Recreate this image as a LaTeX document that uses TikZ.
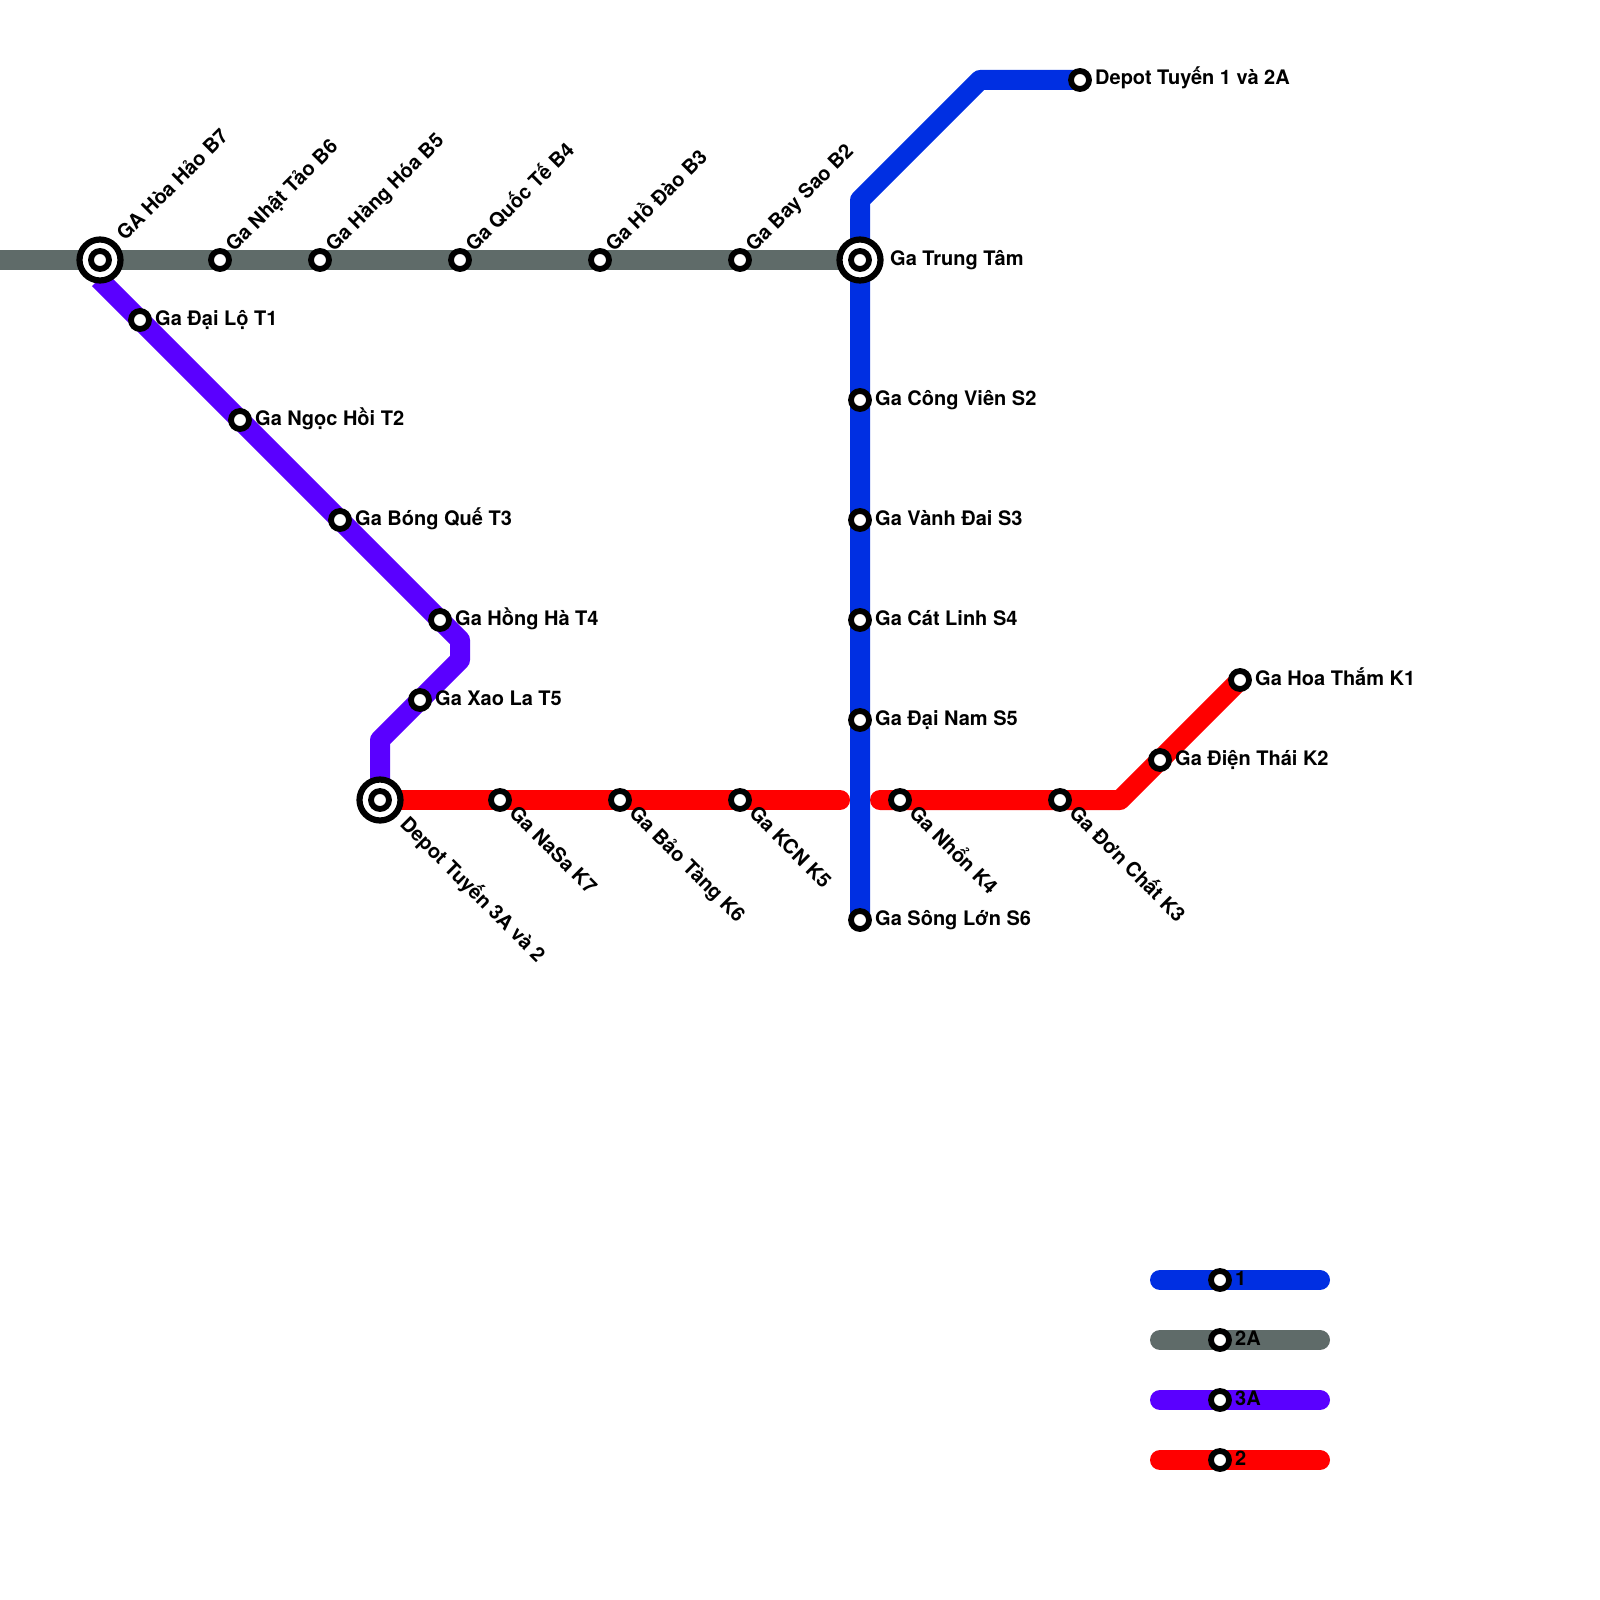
\documentclass[tikz,border=0pt]{standalone}
\usepackage{fontspec}
\setmainfont{TeX Gyre Heros}
\definecolor{lineblue}{RGB}{0,47,226}
\definecolor{linegray}{RGB}{95,107,105}
\definecolor{linepurple}{RGB}{90,0,255}
\definecolor{linered}{RGB}{255,0,0}
\tikzset{
  metro/.style={line width=20pt,line join=round},
  stn/.style={circle,draw=black,fill=white,line width=5.8pt,minimum size=18pt,inner sep=0pt},
  hub/.style={circle,draw=black,fill=white,line width=6.2pt,minimum size=41pt,inner sep=0pt},
  lbl/.style={inner sep=0pt,text=black,font=\fontsize{20}{24}\bfseries\selectfont},
  lblE/.style={lbl,anchor=base west},
  lblUp/.style={lbl,anchor=base west,rotate=45},
  lblDn/.style={lbl,anchor=base west,rotate=-45},
}
\begin{document}
\begin{tikzpicture}[x=1pt,y=-1pt]
\useasboundingbox (0,0) rectangle (1600,1600);
% route bends and free ends
\coordinate (gstart) at (0,260);
\coordinate (bA) at (980,80);
\coordinate (bB) at (860,200);
\coordinate (pS) at (99,279);
\coordinate (pA) at (460,640);
\coordinate (pB) at (460,660);
\coordinate (pC) at (380,740);
\coordinate (rEndL) at (840,800);
\coordinate (rStartR) at (880,800);
\coordinate (rBend) at (1120,800);
\coordinate (k1s) at (1160,1280);\coordinate (k1e) at (1320,1280);
\coordinate (k2s) at (1160,1340);\coordinate (k2e) at (1320,1340);
\coordinate (k3s) at (1160,1400);\coordinate (k3e) at (1320,1400);
\coordinate (k4s) at (1160,1460);\coordinate (k4e) at (1320,1460);
% stations (positions, drawn after the lines)
\coordinate (B7) at (100,260);
\coordinate (B6) at (220,260);
\coordinate (B5) at (320,260);
\coordinate (B4) at (460,260);
\coordinate (B3) at (600,260);
\coordinate (B2) at (740,260);
\coordinate (TT) at (860,260);
\coordinate (T1) at (140,320);
\coordinate (T2) at (240,420);
\coordinate (T3) at (340,520);
\coordinate (T4) at (440,620);
\coordinate (T5) at (420,700);
\coordinate (DP) at (380,800);
\coordinate (K7) at (500,800);
\coordinate (K6) at (620,800);
\coordinate (K5) at (740,800);
\coordinate (K4) at (900,800);
\coordinate (K3) at (1060,800);
\coordinate (K2) at (1160,760);
\coordinate (K1) at (1240,680);
\coordinate (D1) at (1080,80);
\coordinate (S2) at (860,400);
\coordinate (S3) at (860,520);
\coordinate (S4) at (860,620);
\coordinate (S5) at (860,720);
\coordinate (S6) at (860,920);
\coordinate (L1) at (1220,1280);
\coordinate (L2) at (1220,1340);
\coordinate (L3) at (1220,1400);
\coordinate (L4) at (1220,1460);
% lines
\draw[metro,linered,line cap=round] (DP) -- (rEndL);
\draw[metro,linered,line cap=round] (rStartR) -- (rBend) -- (K1);
\draw[metro,linepurple] (pS) -- (pA) -- (pB) -- (pC) -- (DP);
\draw[metro,lineblue] (D1) -- (bA) -- (bB) -- (S6);
\draw[metro,linegray] (gstart) -- (TT);
\draw[metro,lineblue,line cap=round] (k1s) -- (k1e);
\draw[metro,linegray,line cap=round] (k2s) -- (k2e);
\draw[metro,linepurple,line cap=round] (k3s) -- (k3e);
\draw[metro,linered,line cap=round] (k4s) -- (k4e);
% stations
\node[hub] (nB7o) at (B7) {}; \node[stn] (nB7) at (B7) {};
\node[hub] (nTTo) at (TT) {}; \node[stn] (nTT) at (TT) {};
\node[hub] (nDPo) at (DP) {}; \node[stn] (nDP) at (DP) {};
\foreach \s in {B6,B5,B4,B3,B2,T1,T2,T3,T4,T5,K7,K6,K5,K4,K3,K2,K1,D1,S2,S3,S4,S5,S6,L1,L2,L3,L4}
  \node[stn] (n\s) at (\s) {};
% labels: up-right
\node[lblUp] (tB7) at ([shift={(25,-18)}]B7) {GA Hòa Hảo B7};
\node[lblUp] (tB6) at ([shift={(14,-7)}]B6) {Ga Nhật Tảo B6};
\node[lblUp] (tB5) at ([shift={(14,-7)}]B5) {Ga Hàng Hóa B5};
\node[lblUp] (tB4) at ([shift={(14,-7)}]B4) {Ga Quốc Tế B4};
\node[lblUp] (tB3) at ([shift={(14,-7)}]B3) {Ga Hồ Đào B3};
\node[lblUp] (tB2) at ([shift={(14,-7)}]B2) {Ga Bay Sao B2};
% labels: right
\node[lblE] (tTT) at ([shift={(30,5)}]TT) {Ga Trung Tâm};
\node[lblE] (tT1) at ([shift={(15,5)}]T1) {Ga Đại Lộ T1};
\node[lblE] (tT2) at ([shift={(15,5)}]T2) {Ga Ngọc Hồi T2};
\node[lblE] (tT3) at ([shift={(15,5)}]T3) {Ga Bóng Quế T3};
\node[lblE] (tT4) at ([shift={(15,5)}]T4) {Ga Hồng Hà T4};
\node[lblE] (tT5) at ([shift={(15,5)}]T5) {Ga Xao La T5};
\node[lblE] (tK2) at ([shift={(15,5)}]K2) {Ga Điện Thái K2};
\node[lblE] (tK1) at ([shift={(15,5)}]K1) {Ga Hoa Thắm K1};
\node[lblE] (tD1) at ([shift={(15,5)}]D1) {Depot Tuyến 1 và 2A};
\node[lblE] (tS2) at ([shift={(15,5)}]S2) {Ga Công Viên S2};
\node[lblE] (tS3) at ([shift={(15,5)}]S3) {Ga Vành Đai S3};
\node[lblE] (tS4) at ([shift={(15,5)}]S4) {Ga Cát Linh S4};
\node[lblE] (tS5) at ([shift={(15,5)}]S5) {Ga Đại Nam S5};
\node[lblE] (tS6) at ([shift={(15,5)}]S6) {Ga Sông Lớn S6};
% labels: down-right
\node[lblDn] (tDP) at ([shift={(19,25.5)}]DP) {Depot Tuyến 3A và 2};
\node[lblDn] (tK7) at ([shift={(8,14.5)}]K7) {Ga NaSa K7};
\node[lblDn] (tK6) at ([shift={(8,14.5)}]K6) {Ga Bảo Tàng K6};
\node[lblDn] (tK5) at ([shift={(8,14.5)}]K5) {Ga KCN K5};
\node[lblDn] (tK4) at ([shift={(8,14.5)}]K4) {Ga Nhổn K4};
\node[lblDn] (tK3) at ([shift={(8,14.5)}]K3) {Ga Đơn Chất K3};
% legend labels
\node[lblE] (tL1) at ([shift={(15,5)}]L1) {1};
\node[lblE] (tL2) at ([shift={(15,5)}]L2) {2A};
\node[lblE] (tL3) at ([shift={(15,5)}]L3) {3A};
\node[lblE] (tL4) at ([shift={(15,5)}]L4) {2};
\end{tikzpicture}
\end{document}
